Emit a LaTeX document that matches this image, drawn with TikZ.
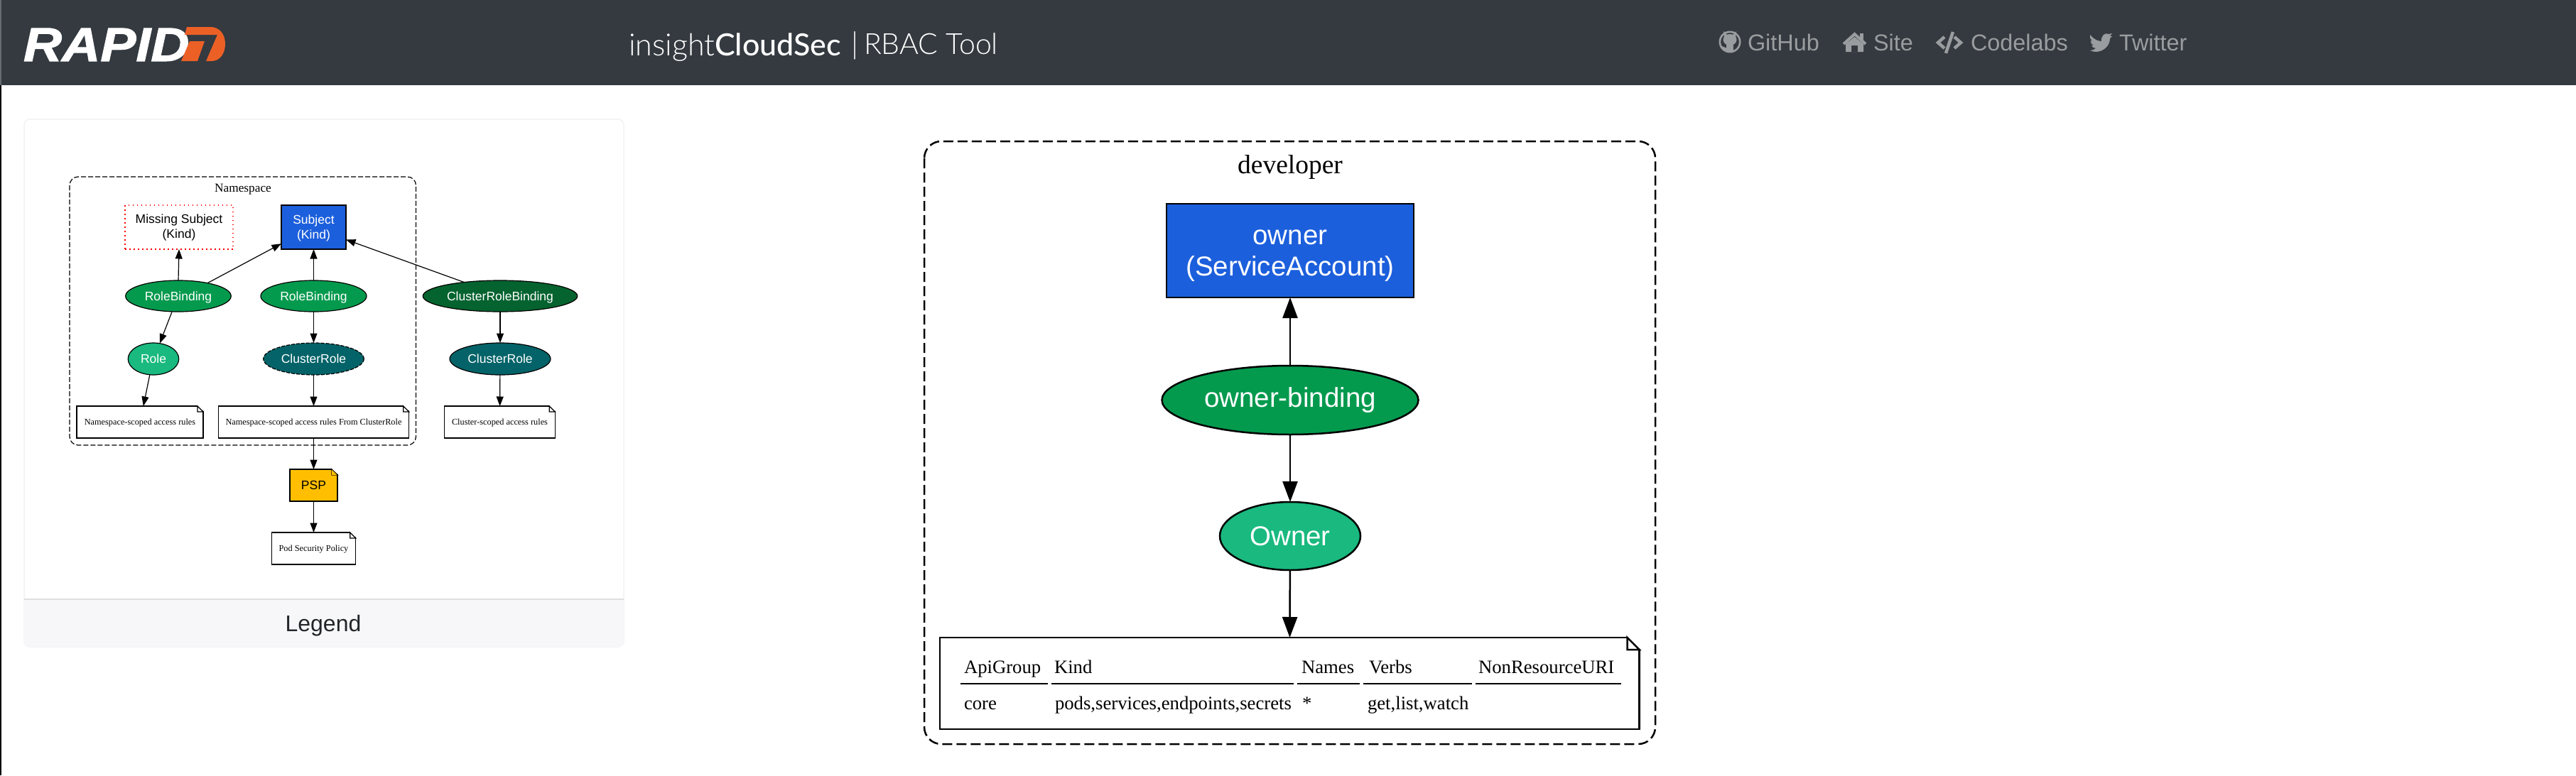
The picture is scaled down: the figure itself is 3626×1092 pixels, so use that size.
\documentclass[tikz,border=0pt]{standalone}
\usepackage{fontspec}
\setmainfont{Liberation Serif}
\setsansfont{Liberation Sans}
\newfontfamily\thinfont{Lato Light}
\newfontfamily\midfont{Lato Medium}
\usetikzlibrary{shapes.geometric,arrows.meta}
\definecolor{hdr}{HTML}{343A40}
\definecolor{navtxt}{HTML}{9A9D9F}
\definecolor{orng}{HTML}{EC6026}
\definecolor{subj}{HTML}{1C5FDC}
\definecolor{bind}{HTML}{049A4E}
\definecolor{rolec}{HTML}{19B97F}
\definecolor{crbind}{HTML}{04632F}
\definecolor{crole}{HTML}{036368}
\definecolor{pspc}{HTML}{FFBF00}
\definecolor{capt}{HTML}{212529}
\definecolor{footc}{HTML}{F7F7F9}
\definecolor{footl}{HTML}{DFDFDF}
\definecolor{cardl}{HTML}{F2F2F2}
\tikzset{
  every node/.style={outer sep=0pt,inner sep=0pt},
  navlabel/.style={anchor=base west,text=navtxt,font=\sffamily\fontsize{32.4}{32}\selectfont},
  navicon/.style={fill=navtxt,draw=none},
  bigshape/.style={line width=2.5pt,draw=black,text=white,align=center,font=\sffamily\fontsize{38.5}{44}\selectfont},
  bigellipse/.style={bigshape,shape=ellipse},
  bigrect/.style={bigshape,shape=rectangle},
  bigarrow/.style={-{Triangle[length=29pt,width=21pt]},line width=2.5pt,black},
  cluster/.style={draw=black,rounded corners=24pt,line width=2.5pt,dash pattern=on 14pt off 6pt},
  cell/.style={anchor=base west,font=\rmfamily\fontsize{26.7}{30}\selectfont},
  cellrule/.style={line width=2.5pt,black},
  smallshape/.style={line width=1.2pt,draw=black,text=white,align=center,font=\sffamily\fontsize{17.5}{21}\selectfont},
  smallellipse/.style={smallshape,shape=ellipse,text depth=0pt},
  smallrect/.style={smallshape,shape=rectangle},
  smallnote/.style={line width=1.2pt,draw=black,fill=white,shape=rectangle,text=black,align=center,text depth=0pt,font=\rmfamily\fontsize{12.3}{15}\selectfont},
  smallarrow/.style={-{Triangle[length=13.5pt,width=10pt]},line width=1.2pt,black},
  smallcluster/.style={draw=black,rounded corners=12pt,line width=1.2pt,dash pattern=on 7pt off 3pt}
}
\newcommand{\notefold}[3]{%
  \fill[#3] ([xshift=-#2 pt,yshift=2pt]#1.north east) -- ([xshift=2pt,yshift=2pt]#1.north east) -- ([xshift=2pt,yshift=-#2 pt]#1.north east) -- ([xshift=-#2 pt,yshift=0pt]#1.north east) -- cycle;
  \draw[line width=\foldlw] ([xshift=-#2 pt]#1.north east) -- ([xshift=-#2 pt,yshift=-#2 pt]#1.north east) -- ([yshift=-#2 pt]#1.north east) -- cycle;
}
\newlength{\foldlw}
\begin{document}
\begin{tikzpicture}[x=1pt,y=-1pt]
\useasboundingbox (0,0) rectangle (3626,1092);
\fill[white] (0,0) rectangle (3626,1092);
% header
\fill[hdr] (0,0) rectangle (3626,120);
\fill[black] (0,120) rectangle (2,1092);
\fill[hdr!75!white] (0,0) rectangle (2,120);
\node[anchor=base west,text=white] (logotext) at (33,86)
  {\scalebox{1.12}[1]{\sffamily\fontsize{67}{67}\selectfont\addfontfeature{FakeBold=1.5}\bfseries\itshape RAPID}};
\fill[orng] (263,38) -- (296,38) .. controls (309,38) and (317,48) .. (317,62) .. controls (317,76) and (309,86) .. (298,86) -- (290,86) -- (306,49) -- (260,49) -- cycle;
\fill[orng] (267,58) -- (288,58) -- (278,86) -- (255,86) -- cycle;
\node[anchor=base west,text=white,font=\thinfont\fontsize{43}{43}\selectfont] (ins) at (885,78) {insight};
\node[anchor=base west,text=white,font=\midfont\fontsize{43}{43}\selectfont] (cloud) at (ins.base east) {CloudSec};
\node[anchor=base west,text=white,font=\thinfont\fontsize{42}{42}\selectfont] (bar) at (1198,76) {|};
\node[anchor=base west,text=white,font=\thinfont\fontsize{41}{41}\selectfont] (rbac) at (1216,76) {RBAC Tool};
% nav icons
\fill[navtxt,even odd rule] (2435,59) circle (15.5) (2435,59) circle (13);
\fill[navtxt] (2435,56) ellipse (9.5 and 8);
\fill[navtxt] (2426,44) -- (2432,50) -- (2427,54) -- cycle;
\fill[navtxt] (2444,44) -- (2438,50) -- (2443,54) -- cycle;
\fill[navtxt] (2430,60) rectangle (2440,74);
\fill[navtxt] (2421,64) -- (2431,68) -- (2431,71) -- (2425,70) -- cycle;
% home
\draw[navtxt,line width=4pt] (2595,62) -- (2610.5,48) -- (2626,62);
\fill[navtxt] (2618,47) rectangle (2623,56);
\fill[navtxt,even odd rule] (2598,62) -- (2610.5,52) -- (2623,62) -- (2623,73) -- (2598,73) -- cycle (2606,64) rectangle (2615,73);
% code
\draw[navtxt,line width=4.5pt] (2737,52) -- (2728,60) -- (2737,68);
\draw[navtxt,line width=4.5pt] (2751,52) -- (2760,60) -- (2751,68);
\draw[navtxt,line width=4.5pt] (2749,45) -- (2739,75);
% twitter
\fill[navtxt] (2942,49) .. controls (2948,56) and (2953,58) .. (2958,58) .. controls (2957,51) and (2963,45) .. (2968,48)
  -- (2973,47) -- (2970,51) -- (2973,51) -- (2970,54) .. controls (2970,65) and (2960,73) .. (2950,73) .. controls (2947,73) and (2944,72) .. (2942,71)
  .. controls (2945,71) and (2948,70) .. (2950,68) .. controls (2947,68) and (2945,66) .. (2944,64) -- (2947,64) .. controls (2944,62) and (2942,60) .. (2943,57) -- (2946,58) .. controls (2942,55) and (2941,52) .. (2942,49) -- cycle;
\node[navlabel] (github) at (2460,71.5) {GitHub};
\node[navlabel] (site) at (2637,71.5) {Site};
\node[navlabel] (codelabs) at (2774,71.5) {Codelabs};
\node[navlabel] (twitter) at (2983,71.5) {Twitter};
% legend card
\draw[cardl,fill=white,rounded corners=8pt,line width=1.5pt] (34,168) rectangle (878,911);
\fill[footc,rounded corners=8pt] (34,911) -- (878,911) -- (878,844) -- (34,844) -- cycle;
\fill[footc] (34,844) rectangle (878,880);
\draw[footl,line width=2pt] (34,844) -- (878,844);
\node[text=capt,font=\sffamily\fontsize{32}{32}\selectfont] (legendcap) at (455,881) {Legend};
% legend diagram
\draw[smallcluster] (98,249) rectangle (585.5,627);
\node[font=\rmfamily\fontsize{17.3}{20}\selectfont] (nslabel) at (342,267) {Namespace};
\node[smallrect,text=black,draw=red,dash pattern=on 1.5pt off 4.5pt,minimum width=152pt,minimum height=62pt] (missing) at (252,320) {Missing Subject\\(Kind)};
\node[smallrect,fill=subj,minimum width=91pt,minimum height=62pt] (subject) at (441.5,320) {\rule{0pt}{15pt}Subject\\(Kind)};
\node[smallellipse,fill=bind,minimum width=148.5pt,minimum height=44pt] (rb1) at (251,417) {RoleBinding};
\node[smallellipse,fill=bind,minimum width=149pt,minimum height=44pt] (rb2) at (441.5,417) {RoleBinding};
\node[smallellipse,fill=crbind,minimum width=217.5pt,minimum height=44pt] (crb) at (704,417) {ClusterRoleBinding};
\node[smallellipse,fill=rolec,minimum width=71.5pt,minimum height=45pt] (role) at (216,505.5) {Role};
\node[smallellipse,fill=crole,dash pattern=on 5pt off 2pt,minimum width=141.5pt,minimum height=45pt] (cr2) at (441.5,505.5) {ClusterRole};
\node[smallellipse,fill=crole,minimum width=142pt,minimum height=45pt] (cr3) at (704,505.5) {ClusterRole};
\node[smallnote,minimum width=178pt,minimum height=45pt] (n1) at (197,594.5) {Namespace-scoped access rules};
\node[smallnote,minimum width=268.5pt,minimum height=45pt] (n2) at (441.5,594.5) {Namespace-scoped access rules From ClusterRole};
\node[smallnote,minimum width=155.5pt,minimum height=45pt] (n3) at (703.5,594.5) {Cluster-scoped access rules};
\node[smallnote,fill=pspc,font=\sffamily\fontsize{17.5}{21}\selectfont,minimum width=67pt,minimum height=45pt] (psp) at (441.5,683.5) {PSP};
\node[smallnote,minimum width=118.5pt,minimum height=45pt] (pod) at (441.5,772.5) {Pod Security Policy};
\setlength{\foldlw}{1.2pt}
\notefold{n1}{8}{white}
\notefold{n2}{8}{white}
\notefold{n3}{8}{white}
\notefold{psp}{8}{white}
\notefold{pod}{8}{white}
\fill[pspc] ([xshift=-8pt,yshift=-0.6pt]psp.north east) -- ([xshift=-0.6pt,yshift=-8pt]psp.north east) -- ([xshift=-8pt,yshift=-8pt]psp.north east) -- cycle;
\draw[smallarrow] (rb1.north) -- (missing.south);
\draw[smallarrow] (rb1.24) -- (subject.207);
\draw[smallarrow] (rb2) -- (subject);
\draw[smallarrow] (crb.159) -- (subject.-21);
\draw[smallarrow] (rb1.248) -- (role.68);
\draw[smallarrow] (rb2) -- (cr2);
\draw[smallarrow] (crb) -- (cr3);
\draw[smallarrow] (role.257) -- (n1.78);
\draw[smallarrow] (cr2) -- (n2);
\draw[smallarrow] (cr3) -- (n3);
\draw[smallarrow] (n2) -- (psp);
\draw[smallarrow] (psp) -- (pod);
% main diagram
\draw[cluster] (1301,199) rectangle (2330,1048);
\node[font=\rmfamily\fontsize{37.5}{40}\selectfont] (devlabel) at (1816,235) {developer};
\node[bigrect,fill=subj,minimum width=348pt,minimum height=132pt] (owner) at (1816,353) {\rule{0pt}{34pt}owner\\(ServiceAccount)};
\node[bigellipse,fill=bind,minimum width=361pt,minimum height=97pt] (binding) at (1816,563.5) {owner-binding};
\node[bigellipse,fill=rolec,minimum width=198pt,minimum height=96pt] (ownerrole) at (1816,755) {Owner};
\node[draw=black,fill=white,line width=2.5pt,shape=rectangle,minimum width=984.5pt,minimum height=129pt] (rules) at (1815.25,962.5) {};
\setlength{\foldlw}{2.5pt}
\notefold{rules}{17}{white}
\draw[bigarrow] (binding) -- (owner);
\draw[bigarrow] (binding) -- (ownerrole);
\draw[bigarrow] (ownerrole) -- (rules);
% table
\node[cell] (h1) at (1357,948) {ApiGroup};
\node[cell] (h2) at (1484,948) {Kind};
\node[cell] (h3) at (1832,948) {Names};
\node[cell] (h4) at (1927,948) {Verbs};
\node[cell] (h5) at (2081,948) {NonResourceURI};
\node[cell] (c1) at (1357,999) {core};
\node[cell] (c2) at (1485,999) {pods,services,endpoints,secrets};
\node[cell] (c3) at (1833,999) {*};
\node[cell] (c4) at (1925,999) {get,list,watch};
\draw[cellrule] (1352,963) -- (1475,963);
\draw[cellrule] (1480,963) -- (1821,963);
\draw[cellrule] (1826,963) -- (1914,963);
\draw[cellrule] (1919,963) -- (2072,963);
\draw[cellrule] (2077,963) -- (2282,963);
\end{tikzpicture}
\end{document}
